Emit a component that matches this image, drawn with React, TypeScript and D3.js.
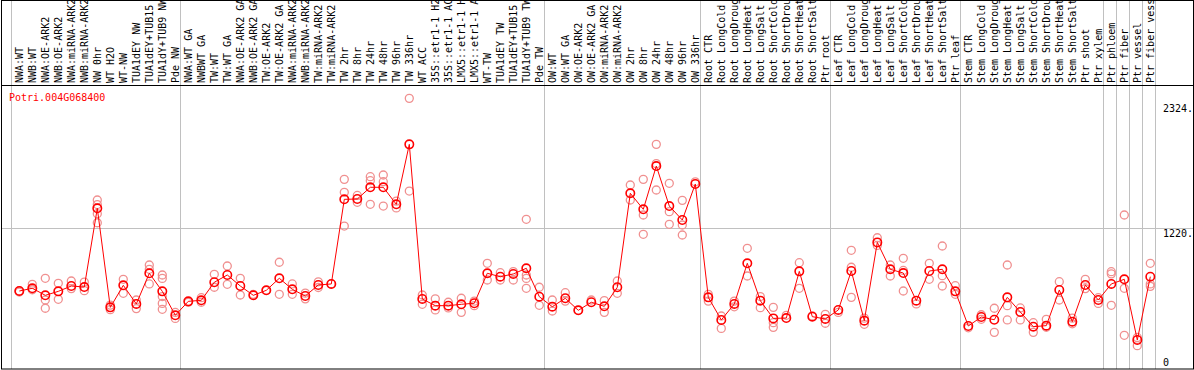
import React from "react";
import * as d3 from "d3";

const title = "Potri.004G068400";

const labels: string[] = [
  "NWA:WT", "NWB:WT", "NWA:OE-ARK2", "NWB:OE-ARK2", "NWA:miRNA-ARK2", "NWB:miRNA-ARK2",
  "NW 0hr", "WT H2O", "WT-NW", "TUA1dEY NW", "TUA1dEY+TUB15 NW", "TUA1dY+TUB9 NW", "Pde NW",
  "NWA:WT GA", "NWBWT GA", "TW:WT", "TW:WT GA", "NWA:OE-ARK2 GA", "NWB:OE-ARK2 GA",
  "TW:OE-ARK2", "TW:OE-ARK2 GA", "NWA:miRNA-ARK2", "NWB:miRNA-ARK2", "TW:miRNA-ARK2",
  "TW:miRNA-ARK2", "TW 2hr", "TW 8hr", "TW 24hr", "TW 48hr", "TW 96hr", "TW 336hr", "WT ACC",
  "35S::etr1-1 H2O", "35S::etr1-1 ACC", "LMX5::etr1-1 H2O", "LMX5::etr1-1 ACC", "WT-TW",
  "TUA1dEY TW", "TUA1dEY+TUB15 TW", "TUA1dY+TUB9 TW", "Pde TW",
  "OW:WT", "OW:WT GA", "OW:OE-ARK2", "OW:OE-ARK2 GA", "OW:miRNA-ARK2", "OW:miRNA-ARK2",
  "OW 2hr", "OW 8hr", "OW 24hr", "OW 48hr", "OW 96hr", "OW 336hr",
  "Root CTR", "Root LongCold", "Root LongDrought", "Root LongHeat", "Root LongSalt",
  "Root ShortCold", "Root ShortDrought", "Root ShortHeat", "Root ShortSalt", "Ptr root",
  "Leaf CTR", "Leaf LongCold", "Leaf LongDrought", "Leaf LongHeat", "Leaf LongSalt",
  "Leaf ShortCold", "Leaf ShortDrought", "Leaf ShortHeat", "Leaf ShortSalt", "Ptr leaf",
  "Stem CTR", "Stem LongCold", "Stem LongDrought", "Stem LongHeat", "Stem LongSalt",
  "Stem ShortCold", "Stem ShortDrought", "Stem ShortHeat", "Stem ShortSalt", "Ptr shoot",
  "Ptr xylem", "Ptr phloem", "Ptr fiber", "Ptr vessel", "Ptr fiber vessel",
];

// group boundaries (index of first column of each group, plus the end)
const groupBreaks: number[] = [0, 13, 41, 53, 63, 73, 84, 85, 86, 87, 88];

const means: number[] = [
  669, 693, 631, 666, 713, 704, 1397, 525, 719, 555, 825, 666, 455,
  578, 587, 746, 810, 713, 631, 675, 781, 684, 625, 722, 731, 1476, 1479, 1582, 1582, 1432,
  1960, 599, 540, 540, 552, 561, 825, 795, 819, 869, 619,
  531, 605, 499, 570, 534, 702, 1529, 1388, 1769, 1417, 1294, 1611,
  613, 414, 555, 913, 584, 428, 431, 842, 443, 423,
  502, 845, 408, 1097, 860, 827, 584, 845, 860, 666,
  361, 440, 416, 613, 484, 355, 364, 678, 399, 722, 590,
  731, 772, 238, 795,
];

const replicates: number[][] = [
  [669, 660], [728, 680], [781, 590, 517], [737, 596], [757, 690], [748, 672],
  [1470, 1430, 1350, 1270], [545, 505], [772, 649], [590, 514], [898, 860, 731], [810, 780, 620, 560, 508], [480, 428],
  [570], [610, 570], [816, 702], [889, 728], [781, 634], [640], [675],
  [922, 640], [731, 640], [650, 600], [750, 700], [731], [1652, 1538, 1241], [1510, 1450], [1675, 1640, 1432],
  [1690, 1631, 1417], [1460, 1400],
  [2365, 1549], [634, 552], [600, 502], [570, 520], [605, 481], [580, 540], [913, 766], [830, 766], [840, 766],
  [1300, 810, 780, 693], [702, 543],
  [590, 493], [654, 580], [499], [590], [584, 481], [757, 649], [1602, 1470], [1652, 1338, 1168],
  [1960, 1790, 1558], [1617, 1367, 1256], [1467, 1250, 1162], [1630],
  [640, 580], [449, 340], [580, 530], [1045, 801], [620, 522], [525, 390, 349], [455], [918, 693],
  [450], [464, 385], [480], [1027, 878, 613], [430, 376], [1138, 1070], [898, 801], [957, 850, 669],
  [555], [913, 772], [1065, 804, 713], [716, 640],
  [345], [460, 420], [517, 305], [898, 540, 414], [520, 414], [390, 305], [420, 350], [751, 590],
  [430, 380], [772, 690], [610, 560],
  [839, 820, 543], [1338, 693, 279], [260, 188], [913, 731, 710],
];

const W = 1194;
const H = 370;
const plotTop = 85;
const plotBottom = 369;
const left = 1.5;
const right = 1193.5;
const font = "'DejaVu Sans Mono', monospace";
const red = "#ff0000";
const pink = "#f09090";
const grid = "#c0c0c0";

export default function App() {
  const x = d3
    .scaleBand<number>()
    .domain(d3.range(labels.length))
    .range([10.7, 10.7 + 13 * labels.length])
    .paddingInner(0)
    .paddingOuter(0);
  const cx = (i: number) => (x(i) as number) + 8.6;
  const y = d3.scaleLinear().domain([0, 2324]).range([367, 103]);
  const yTicks = [2324, 1220];

  const line = d3
    .line<number>()
    .x((_, i) => cx(i))
    .y((d) => y(d));

  return (
    <svg
      width={W}
      height={H}
      style={{ position: "absolute", left: 0, top: 0, background: "#fff" }}
    >
      <rect x={0} y={0} width={W} height={H} fill="#fff" />
      {/* group separators */}
      {groupBreaks.map((g) => {
        const gx = Math.round(x.range()[0] + g * x.bandwidth()) + 0.5;
        return <line key={"g" + g} x1={gx} x2={gx} y1={0} y2={plotBottom} stroke={grid} strokeWidth={1} />;
      })}
      {/* horizontal gridline */}
      <line x1={left} x2={right} y1={Math.round(y(1220)) + 0.5} y2={Math.round(y(1220)) + 0.5} stroke={grid} strokeWidth={1} />
      {/* frame */}
      <rect x={left} y={0.5} width={right - left} height={plotBottom - 0.5} fill="none" stroke="#000" strokeWidth={1} />
      <line x1={left} x2={right} y1={plotTop + 0.5} y2={plotTop + 0.5} stroke="#000" strokeWidth={1} />
      {/* column labels */}
      {labels.map((l, i) => (
        <text
          key={"l" + i}
          transform={`translate(${cx(i) + 3.5},${plotTop - 2}) rotate(-90)`}
          fontFamily={font}
          fontSize={10}
          fill="#000"
        >
          {l}
        </text>
      ))}
      {/* y labels */}
      {yTicks.map((t) => (
        <text key={"t" + t} x={1163} y={y(t) + 9} fontFamily={font} fontSize={10} fill="#000">
          {t + "."}
        </text>
      ))}
      <text x={1163} y={366} fontFamily={font} fontSize={10} fill="#000">
        0
      </text>
      {/* title */}
      <text x={9} y={100.5} fontFamily={font} fontSize={10} fill={red}>
        {title}
      </text>
      {/* replicates */}
      {replicates.map((reps, i) =>
        reps.map((v, j) => (
          <circle key={`r${i}-${j}`} cx={cx(i)} cy={y(v)} r={4} fill="none" stroke={pink} strokeWidth={1.3} />
        ))
      )}
      {/* mean line */}
      <path d={line(means) || ""} fill="none" stroke={red} strokeWidth={1} />
      {means.map((v, i) => (
        <circle key={"m" + i} cx={cx(i)} cy={y(v)} r={4.2} fill="none" stroke={red} strokeWidth={1.6} />
      ))}
    </svg>
  );
}
